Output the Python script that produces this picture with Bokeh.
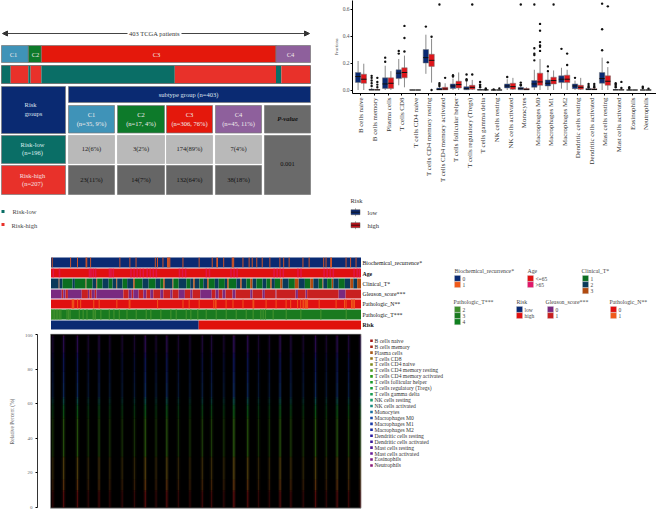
from bokeh.plotting import figure
from bokeh.layouts import column, row
from bokeh.models import Range1d, FixedTicker, Arrow, NormalHead, Spacer
from bokeh.core.properties import value
from bokeh.embed import file_html
from bokeh.resources import INLINE

SERIF = "Liberation Serif"
NAVY, RED, TEAL, RISKRED = "#0a2a72", "#e2150c", "#0a6e66", "#e8312a"

# ---------- data: subtype / risk table ----------
subtype_names = ["C1", "C2", "C3", "C4"]
subtype_n = [35, 17, 306, 45]
subtype_pct = [9, 4, 76, 11]
subtype_colors = ["#3f93b8", "#0d7a2a", "#e4180c", "#8e609c"]
risk_low_counts = [12, 3, 174, 7]
risk_low_pct = [6, 2, 89, 4]
risk_high_counts = [23, 14, 132, 38]
risk_high_pct = [11, 7, 64, 18]
p_value = "0.001"

# ---------- data: box plot ----------
cell_types = ["B cells naive", "B cells memory", "Plasma cells", "T cells CD8", "T cells CD4 naive",
              "T cells CD4 memory resting", "T cells CD4 memory activated", "T cells follicular helper",
              "T cells regulatory (Tregs)", "T cells gamma delta", "NK cells resting", "NK cells activated",
              "Monocytes", "Macrophages M0", "Macrophages M1", "Macrophages M2", "Dendritic cells resting",
              "Dendritic cells activated", "Mast cells resting", "Mast cells activated", "Eosinophils", "Neutrophils"]
low_q1 = [.056, 0, .012, .085, 0, .20, 0, .012, .002, 0, 0, .015, .002, .02, .03, .055, .01, .002, .05, 0, 0, 0]
low_med = [.10, .001, .045, .125, 0, .24, .004, .03, .01, .001, 0, .03, .01, .045, .05, .08, .03, .005, .085, .001, 0, 0]
low_q3 = [.13, .006, .09, .15, .001, .30, .015, .045, .025, .003, .001, .045, .02, .07, .075, .105, .045, .012, .13, .003, .001, .001]
low_lo = [0, 0, 0, .035, 0, .12, 0, 0, 0, 0, 0, 0, 0, 0, 0, .01, 0, 0, 0, 0, 0, 0]
low_hi = [.215, .015, .18, .23, .002, .41, .025, .085, .06, .008, .002, .08, .03, .15, .13, .165, .07, .025, .24, .008, .002, .002]
low_out = [[], [.105, .09, .07, .05, .03], [.24, .21], [.29, .27], [], [.47], [.634, .05, .04, .03], [.11, .10],
           [.115, .08, .07], [.06, .04, .03, .02], [.005], [.097], [.634, .055, .04, .035],
           [.634, .31, .27, .26, .22], [.175, .14], [.305], [.09], [.045, .03, .02], [.64, .45, .295],
           [.05, .04, .03, .02], [.02, .01], [.025, .015]]
high_q1 = [.05, 0, .012, .09, 0, .175, .001, .015, .005, 0, 0, .005, .001, .035, .045, .055, .005, .002, .035, 0, 0, 0]
high_med = [.08, .001, .05, .13, 0, .22, .008, .04, .02, .001, 0, .025, .005, .06, .07, .08, .02, .004, .065, .001, 0, 0]
high_q3 = [.117, .003, .09, .165, .001, .265, .02, .065, .035, .001, .001, .05, .012, .125, .095, .11, .035, .01, .105, .002, .001, .001]
high_lo = [0, 0, 0, .02, 0, .055, 0, 0, 0, 0, 0, 0, 0, 0, 0, 0, 0, 0, 0, 0, 0, 0]
high_hi = [.195, .008, .14, .255, .002, .38, .05, .13, .075, .003, .002, .09, .02, .23, .145, .15, .09, .02, .17, .005, .002, .002]
high_out = [[], [.09, .06, .04, .02], [], [.475, .385, .285], [], [.395, 0.0], [.09], [], [.634, .115], [.012, .005],
            [.012], [], [], [.49, .44, .355, .33, .32, .29], [.634], [.27, .185], [], [.045, .03, .02], [.62, .205],
            [.06, .015], [], [.01]]

# ---------- data: annotation tracks (patient order) ----------
bio_idx = [1, 25, 34, 45, 46, 51, 89, 102, 110, 135, 138, 145, 151, 152, 153, 154, 171, 192, 209, 215, 216, 224, 235,
           236, 237, 249, 257, 261, 267, 274, 284, 297, 302, 309, 327, 335, 354, 357, 363, 364, 383, 389, 396]
age_idx = [2, 10, 49, 51, 54, 57, 75, 77, 80, 103, 107, 111, 115, 119, 124, 128, 132, 136, 166, 170, 174, 201, 205,
           233, 237, 241, 289, 293, 297, 301, 320, 324, 354, 358, 362, 366, 393, 397, 400]
clin_start = [0, 10, 11, 15, 28, 31, 45, 46, 54, 59, 60, 67, 75, 80, 85, 86, 93, 99, 107, 109, 119, 127, 136, 142, 146,
              148, 158, 159, 166, 176, 181, 185, 187, 193, 198, 203, 205, 213, 218, 226, 229, 231, 241, 246, 248, 254,
              259, 262, 267, 275, 280, 285, 287, 291, 298, 301, 309, 317, 322, 330, 337, 341, 348, 353, 354, 359, 365,
              367, 374, 382, 389, 393, 398]
clin_val = [2, 3, 2, 1, 2, 1, 3, 1, 2, 3, 1, 2, 1, 2, 3, 2, 1, 2, 3, 1, 2, 1, 2, 1, 3,
            2, 3, 1, 2, 1, 2, 3, 2, 1, 2, 3, 1, 2, 1, 2, 3, 1, 2, 3, 2, 1,
            3, 2, 1, 2, 1, 3, 2, 1, 3, 2, 1, 3, 2, 1, 3, 2, 1, 3, 2, 1, 3,
            2, 1, 2, 3, 2, 3]
gleason_start = [0, 14, 16, 19, 22, 40, 48, 50, 53, 57, 59, 94, 101, 105, 107, 114, 120, 124, 129, 133, 142, 146, 155,
                 158, 166, 174, 181, 184, 194, 209, 214, 218, 223, 227, 236, 240, 259, 262, 275, 278, 292, 293, 318,
                 321, 331, 333, 374, 383]
gleason_val = [0, 1, 0, 1, 0, 1, 0, 1, 0, 1, 0, 1, 0, 1, 0, 1, 0, 1, 0, 1, 0, 1, 0,
               1, 0, 1, 0, 1, 0, 1, 0, 1, 0, 1, 0, 1, 0, 1, 0, 1, 0, 1, 0,
               1, 0, 1, 0, 1]
pathn_idx = [27, 28, 29, 34, 38, 55, 62, 85, 101, 102, 138, 171, 179, 192, 211, 213, 214, 227, 236, 249, 262, 263, 279,
             292, 305, 311, 320, 324, 327, 328, 330, 331, 332, 333, 348, 370, 381, 383, 390, 391, 393, 394]
patht_idx = [0, 2, 4, 6, 8, 10, 12, 20, 22, 24, 36, 41, 46, 54, 55, 57, 64, 75, 81, 88, 98, 110, 123, 129, 142, 155,
             162, 175, 181, 190, 201, 214, 227, 240, 253, 262, 272, 275, 278, 288, 305, 324, 350, 383]
risk_split = 192
n_patients = 403

# ---------- data: stacked composition ----------
mean_percent = [9, 1, 6, 13, .5, 22, 1.5, 4, 2, .5, .5, 3, 1, 8, 6.5, 8, 2.5, 1, 8.5, .5, .2, .3]
stripe_pos = [3, 17, 35, 49, 63, 77, 93, 109, 123, 137, 151, 166, 181, 197, 209, 225, 238, 256, 270, 284, 298, 312,
              328, 344, 358, 372, 387, 402]
stripe_alpha = [.24, .42, .42, .24, .33, .24, .24, .24, .45, .24, .42, .24, .24, .3, .3, .24, .5, .42, .24, .24, .42,
                .3, .24, .42, .24, .42, .3, .24]
cell_colors = ["#a01818", "#a82818", "#a85a18", "#96741a", "#7c8a1a", "#4a9a1a", "#2a9a1a", "#1a9a2a", "#1a9a3a",
               "#1a9a50", "#1a9a6a", "#1a8a80", "#1a70a0", "#1a4aa8", "#1a3aa8", "#1a2aa0", "#2a1aa0", "#3a1a98",
               "#501a98", "#681a98", "#7a1a88", "#8a1a78"]


def canvas(w, h, x0, y0):
    p = figure(width=w, height=h, x_range=Range1d(x0, x0 + w), y_range=Range1d(y0 + h, y0),
               toolbar_location=None, output_backend="svg", min_border=0, outline_line_color=None)
    p.xaxis.visible = False
    p.yaxis.visible = False
    p.grid.visible = False
    return p


def patient_range(x0, w, px_start, px_end):
    k = n_patients / (px_end - px_start)
    return Range1d((x0 - px_start) * k, (x0 + w - px_start) * k)


def txt(p, x, y, s, size=6.5, color="#333333", align="left", style="normal", angle=0):
    p.text(x=[x], y=[y], text=[s], text_font=value(SERIF), text_font_size=value(f"{size}px"), text_color=color,
           text_align=align, text_baseline="middle", text_font_style=style, angle=angle)


def box(p, x1, x2, y1, y2, color, line="#7a7a7a", lw=0.7):
    p.quad(left=[x1], right=[x2], top=[y1], bottom=[y2], fill_color=color, line_color=line, line_width=lw)


# ========== top-left: table ==========
a = canvas(330, 250, 0, 0)
a.extra_x_ranges = {"patients": patient_range(0, 330, 1, 310)}
left = 0
for n, c_, name, lx in zip(subtype_n, subtype_colors, subtype_names, [13, 35, 156, 290]):
    a.quad(left=[left], right=[left + n], top=[45], bottom=[62], fill_color=c_, line_color="#777777", line_width=.7,
           x_range_name="patients")
    txt(a, lx, 54, name, 6.5, "#f0e8e8", "center")
    left += n
left = 0
for lo, hi in zip(risk_low_counts, risk_high_counts):
    a.quad(left=[left], right=[left + lo], top=[65], bottom=[83], fill_color=TEAL, line_color=None,
           x_range_name="patients")
    a.quad(left=[left + lo], right=[left + lo + hi], top=[65], bottom=[83], fill_color=RISKRED, line_color=None,
           x_range_name="patients")
    left += lo + hi
a.quad(left=[0], right=[n_patients], top=[65], bottom=[83], fill_color=None, line_color="#666666", line_width=.8,
       x_range_name="patients")

for other, head_end in [(127, 2), (181, 309)]:
    a.add_layout(Arrow(end=NormalHead(size=5, fill_color="#333333", line_color="#333333"), x_start=other, y_start=33,
                       x_end=head_end, y_end=33, line_color="#444444", line_width=1))
txt(a, 154, 33, "403 TCGA patients", 6.5, "#333333", "center")

col_x = [(68, 114), (117, 164), (166, 212), (215, 261)]
box(a, 1, 65, 86, 133, NAVY)
txt(a, 30, 104, "Risk", 6.5, "#dfe3ee", "center")
txt(a, 33, 113, "groups", 6.5, "#dfe3ee", "center")
box(a, 68, 310, 86, 102, NAVY)
txt(a, 188, 94, "subtype group (n=403)", 6.5, "#dfe3ee", "center")
for (x1, x2), nm, n, pc, c_ in zip(col_x, subtype_names, subtype_n, subtype_pct, subtype_colors):
    box(a, x1, x2, 105, 132.5, c_)
    txt(a, (x1 + x2) / 2, 114, nm, 6.5, "#f0ecec", "center")
    txt(a, (x1 + x2) / 2, 123, f"(n={n}, {pc}%)", 6.5, "#f0ecec", "center")
box(a, 264, 310, 105, 132.5, "#6a6a6a")
txt(a, 287, 118, "P-value", 6.5, "#111111", "center", "bold italic")
box(a, 1, 65, 135, 163, TEAL)
txt(a, 32, 144, "Risk-low", 6.5, "#dff0ee", "center")
txt(a, 32, 152, f"(n={sum(risk_low_counts)})", 6.5, "#dff0ee", "center")
box(a, 1, 65, 165, 194, RISKRED)
txt(a, 32, 175, "Risk-high", 6.5, "#f5e0e0", "center")
txt(a, 32, 183, f"(n={sum(risk_high_counts)})", 6.5, "#f5e0e0", "center")
for (x1, x2), lo, lp, hi, hp in zip(col_x, risk_low_counts, risk_low_pct, risk_high_counts, risk_high_pct):
    box(a, x1, x2, 135, 163, "#b9b9b9", "#b0b0b0")
    txt(a, (x1 + x2) / 2, 148, f"{lo}({lp}%)", 6.5, "#222222", "center")
    box(a, x1, x2, 165, 194, "#666666")
    txt(a, (x1 + x2) / 2, 179, f"{hi}({hp}%)", 6.5, "#111111", "center")
box(a, 264, 310, 135, 194, "#6a6a6a")
txt(a, 287, 163, p_value, 6.5, "#111111", "center")
box(a, 1, 4, 209.5, 212.5, TEAL, None)
txt(a, 12, 211, "Risk-low", 6.5, "#444444")
box(a, 1, 4, 222.5, 225.5, RISKRED, None)
txt(a, 11, 224.5, "Risk-high", 6.5, "#444444")

# ========== top-right: box plot ==========
b = figure(width=326, height=185, x_range=Range1d(0.378, 22.80), y_range=Range1d(-0.0258, 0.6634),
           toolbar_location=None, output_backend="svg", min_border_left=19, min_border_right=0, min_border_top=0,
           min_border_bottom=91, outline_line_color=None)
b.grid.visible = False
b.xaxis.ticker = FixedTicker(ticks=list(range(1, 23)))
b.xaxis.major_label_overrides = {i + 1: t for i, t in enumerate(cell_types)}
b.xaxis.major_label_orientation = 1.5708
b.xaxis.major_label_text_font = SERIF
b.xaxis.major_label_text_font_size = "6.9px"
b.xaxis.major_label_text_color = "#333333"
b.xaxis.major_tick_in = 0
b.xaxis.major_tick_out = 2
b.xaxis.minor_tick_line_color = None
b.xaxis.major_label_standoff = 2
b.yaxis.ticker = FixedTicker(ticks=[0, .2, .4, .6])
b.yaxis.major_label_overrides = {0: "0.0", .2: "0.2", .4: "0.4", .6: "0.6"}
b.yaxis.minor_tick_line_color = None
b.yaxis.major_tick_in = 0
b.yaxis.major_tick_out = 2
b.yaxis.major_label_text_font = SERIF
b.yaxis.major_label_text_font_size = "5.5px"
b.yaxis.major_label_text_color = "#555555"
b.yaxis.major_label_standoff = 1
b.yaxis.axis_label = "Fractions"
b.yaxis.axis_label_text_font = SERIF
b.yaxis.axis_label_text_font_size = "4.5px"
b.yaxis.axis_label_text_font_style = "normal"
b.yaxis.axis_label_text_color = "#555555"
b.yaxis.axis_label_standoff = 1

xs = list(range(1, 23))
for off, q1, med, q3, lo, hi, out, col in [(-.21, low_q1, low_med, low_q3, low_lo, low_hi, low_out, NAVY),
                                           (.21, high_q1, high_med, high_q3, high_lo, high_hi, high_out, "#e0151a")]:
    cx = [x + off for x in xs]
    b.segment(x0=cx, x1=cx, y0=lo, y1=hi, line_color="#8a8a8a", line_width=1)
    b.vbar(x=cx, width=.4, bottom=q1, top=q3, fill_color=col, line_color="#777777", line_width=.5)
    b.segment(x0=[x - .2 for x in cx], x1=[x + .2 for x in cx], y0=med, y1=med, line_color="#111111", line_width=1)
    ox = [x for x, o in zip(cx, out) for _ in o]
    oy = [v for o in out for v in o]
    b.scatter(x=ox, y=oy, size=2.4, fill_color="#111111", line_color=None)

b2 = canvas(325, 65, 331, 185)
txt(b2, 350, 200, "Risk", 6.5, "#333333")
for y, col, lab in [(211.7, NAVY, "low"), (224.7, "#c0101a", "high")]:
    b2.segment(x0=[355], x1=[355], y0=[y - 4], y1=[y + 4], line_color="#888888", line_width=.7)
    box(b2, 350.5, 359.5, y - 2.5, y + 2.5, col, "#555555", .5)
    b2.segment(x0=[350.5], x1=[359.5], y0=[y], y1=[y], line_color="#111111", line_width=.8)
    txt(b2, 367, y, lab, 6.5, "#333333")

# ========== middle: annotation tracks ==========
c = canvas(656, 83, 0, 250)
c.extra_x_ranges = {"patients": patient_range(0, 656, 50.5, 360.5)}
C_BLUE, C_ORANGE, C_RED, C_PINK = NAVY, "#f05a1a", "#e01010", "#e0186a"
C_GREEN, C_DNAVY, C_BROWN = "#0a6e20", "#0a3a5a", "#b04a10"
C_PURPLE, C_RBROWN = "#7a2a80", "#c82020"
C_LG, C_MG, C_DG = "#3f8f2c", "#1a7a20", "#108020"


def base(y1, y2, col):
    c.quad(left=[0], right=[n_patients], top=[y1], bottom=[y2], fill_color=col, line_color=None,
           x_range_name="patients")


def stripes(idx, y1, y2, col, w=1.1, alpha=1.0):
    c.quad(left=idx, right=[i + w for i in idx], top=[y1] * len(idx), bottom=[y2] * len(idx), fill_color=col,
           fill_alpha=alpha, line_color=None, x_range_name="patients")


def runs(starts, vals, y1, y2, cols):
    ends = starts[1:] + [n_patients]
    c.quad(left=starts, right=ends, top=[y1] * len(starts), bottom=[y2] * len(starts),
           fill_color=[cols[v] for v in vals], line_color=None, x_range_name="patients")


base(257, 267, C_BLUE)
stripes(bio_idx, 257, 267, C_ORANGE)
base(268, 277, C_RED)
stripes(age_idx, 268, 277, C_PINK, 2.0, .6)
runs(clin_start, clin_val, 278, 288, {1: C_GREEN, 2: C_DNAVY, 3: C_BROWN})
runs(gleason_start, gleason_val, 289, 298, {0: C_PURPLE, 1: C_RBROWN})
base(299, 308, C_RED)
stripes(pathn_idx, 299, 308, C_ORANGE, 1.2)
base(309, 319, C_MG)
stripes(patht_idx, 309, 319, C_LG, 1.6)
c.quad(left=[0, risk_split], right=[risk_split, n_patients], top=[320, 320], bottom=[329, 329],
       fill_color=[NAVY, "#e0100a"], line_color=None, x_range_name="patients")

for lab, y, st in [("Biochemical_recurrence*", 262, "normal"), ("Age", 273, "bold"), ("Clinical_T*", 283, "normal"),
                   ("Gleason_score***", 293, "normal"), ("Pathologic_N**", 303, "normal"),
                   ("Pathologic_T***", 314, "normal"), ("Risk", 324, "bold")]:
    txt(c, 362, y, lab, 5.8, "#111111", "left", st)

legends = [("Biochemical_recurrence*", 454, 270, 454, [("0", C_BLUE), ("1", C_ORANGE)]),
           ("Age", 527, 270, 527, [("<=65", C_RED), (">65", C_PINK)]),
           ("Clinical_T*", 581, 270, 582, [("1", C_GREEN), ("2", C_DNAVY), ("3", C_BROWN)]),
           ("Pathologic_T***", 453, 301, 454, [("2", C_LG), ("3", C_MG), ("4", C_DG)]),
           ("Risk", 516, 301, 516, [("low", C_BLUE), ("high", C_RED)]),
           ("Gleason_score***", 545, 301, 547, [("0", C_PURPLE), ("1", C_RBROWN)]),
           ("Pathologic_N**", 609, 301, 610, [("0", C_RED), ("1", C_ORANGE)])]
for title, tx, ty, sx, items in legends:
    txt(c, tx, ty, title, 5.8, "#444444")
    for i, (lab, col) in enumerate(items):
        y = ty + 5 + i * 6.2
        c.quad(left=[sx], right=[sx + 6], top=[y], bottom=[y + 5.8], fill_color=col, line_color="#cccccc", line_width=.3)
        txt(c, sx + 8, y + 3, lab, 5.5, "#444444")

# ========== bottom: stacked composition ==========
d = figure(width=655, height=176, x_range=Range1d(37, 656), y_range=Range1d(-1.16, 100.7), toolbar_location=None,
           output_backend="svg", min_border_left=36, min_border_right=0, min_border_top=0, min_border_bottom=0,
           outline_line_color=None)
d.extra_x_ranges = {"patients": patient_range(37, 619, 50, 360.5)}
d.grid.visible = False
d.xaxis.visible = False
d.yaxis.ticker = FixedTicker(ticks=[0, 20, 40, 60, 80, 100])
d.yaxis.bounds = (0, 100)
d.yaxis.minor_tick_line_color = None
d.yaxis.major_tick_in = 0
d.yaxis.major_tick_out = 2
d.yaxis.axis_line_color = "#333333"
d.yaxis.major_label_text_font = SERIF
d.yaxis.major_label_text_font_size = "5px"
d.yaxis.major_label_text_color = "#666666"
d.yaxis.major_label_standoff = 3
d.yaxis.axis_label = "Relative Percent (%)"
d.yaxis.axis_label_text_font = SERIF
d.yaxis.axis_label_text_font_size = "5.5px"
d.yaxis.axis_label_text_font_style = "normal"
d.yaxis.axis_label_text_color = "#666666"
d.yaxis.axis_label_standoff = 7

d.quad(left=[0], right=[n_patients], top=[100.4], bottom=[-0.4], fill_color="#000000", line_color="#999999",
       line_width=.8, x_range_name="patients")
bottom = 0.0
for pct, col in zip(mean_percent, cell_colors):
    top = bottom + pct
    n = len(stripe_pos)
    d.quad(left=[x - 2.5 for x in stripe_pos], right=[x + 2.5 for x in stripe_pos], top=[top] * n, bottom=[bottom] * n,
           fill_color=col, fill_alpha=[v * .3 for v in stripe_alpha], line_color=None, x_range_name="patients")
    d.quad(left=[x - .8 for x in stripe_pos], right=[x + .8 for x in stripe_pos], top=[top] * n, bottom=[bottom] * n,
           fill_color=col, fill_alpha=stripe_alpha, line_color=None, x_range_name="patients")
    bottom = top

k = 100 / (507 - 335.3)
for i, (name, col) in enumerate(zip(cell_types, cell_colors)):
    yv = (507 - (341.3 + 5.9 * i)) * k
    d.scatter(x=[371], y=[yv], marker="square", size=2.6, fill_color=col, line_color=None)
    d.text(x=[374], y=[yv], text=[name], text_font=value(SERIF), text_font_size=value("5.6px"), text_color="#333333",
           text_baseline="middle")

right_col = column(b, row(Spacer(width=1, height=65), b2, spacing=0), spacing=0)
page = column(row(a, right_col, spacing=0), c, row(Spacer(width=1, height=176), d, spacing=0), spacing=0)
open("out.html", "w").write(file_html(page, INLINE))
